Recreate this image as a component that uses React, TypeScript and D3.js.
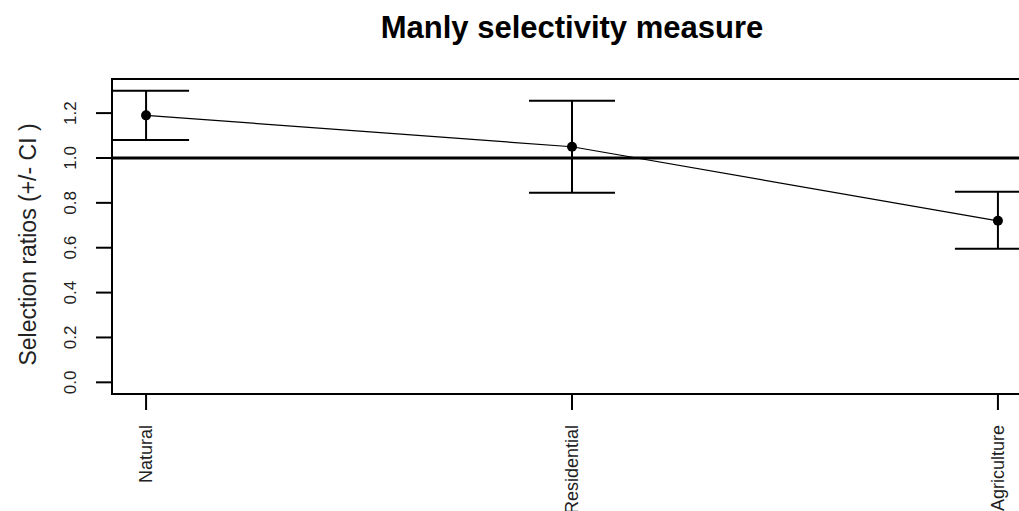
import React, { useEffect, useRef } from 'react';
import * as d3 from 'd3';

const categories = ['Natural', 'Residential', 'Agriculture'];
const ratios = [1.19, 1.05, 0.72];
const lowerCI = [1.08, 0.845, 0.595];
const upperCI = [1.3, 1.255, 0.85];
const yTicks = [0, 0.2, 0.4, 0.6, 0.8, 1.0, 1.2];

const App = () => {
    const svgRef = useRef<SVGSVGElement | null>(null);

    useEffect(() => {
        const svg = d3.select(svgRef.current);
        svg.selectAll('*').remove();

        const left = 112, top = 79, bottom = 394, right = 1032;
        const font = 'Liberation Sans, Arial, sans-serif';

        // R style axes: 4% padding on each side
        const x = d3.scaleLinear().domain([0.92, 3.08]).range([left, right]);
        const y = d3.scaleLinear().domain([-0.052, 1.352]).range([bottom, top]);

        svg.append('text')
            .attr('x', (left + right) / 2).attr('y', 38)
            .attr('text-anchor', 'middle')
            .style('font-family', font).style('font-size', '31px').style('font-weight', 'bold')
            .text('Manly selectivity measure');

        const data = categories.map((c, i) => ({ c, i: i + 1, v: ratios[i], lo: lowerCI[i], hi: upperCI[i] }));

        const plot = svg.append('g');
        plot.append('clipPath').attr('id', 'clip')
            .append('rect').attr('x', left).attr('y', top).attr('width', right - left).attr('height', bottom - top);
        const inner = plot.append('g').attr('clip-path', 'url(#clip)');

        // reference line at 1
        inner.append('line')
            .attr('x1', left).attr('x2', right)
            .attr('y1', y(1)).attr('y2', y(1))
            .attr('stroke', '#000').attr('stroke-width', 3);

        const line = d3.line<any>().x(d => x(d.i)).y(d => y(d.v));
        inner.append('path').datum(data)
            .attr('fill', 'none').attr('stroke', '#000').attr('stroke-width', 1.2)
            .attr('d', line);

        const capW = 43;
        const bars = inner.selectAll('g.err').data(data).join('g').attr('class', 'err');
        bars.append('line')
            .attr('x1', d => x(d.i)).attr('x2', d => x(d.i))
            .attr('y1', d => y(d.lo)).attr('y2', d => y(d.hi))
            .attr('stroke', '#000').attr('stroke-width', 2);
        bars.append('line')
            .attr('x1', d => x(d.i) - capW).attr('x2', d => x(d.i) + capW)
            .attr('y1', d => y(d.hi)).attr('y2', d => y(d.hi))
            .attr('stroke', '#000').attr('stroke-width', 2);
        bars.append('line')
            .attr('x1', d => x(d.i) - capW).attr('x2', d => x(d.i) + capW)
            .attr('y1', d => y(d.lo)).attr('y2', d => y(d.lo))
            .attr('stroke', '#000').attr('stroke-width', 2);
        bars.append('circle')
            .attr('cx', d => x(d.i)).attr('cy', d => y(d.v)).attr('r', 5)
            .attr('fill', '#000');

        // box
        svg.append('rect')
            .attr('x', left).attr('y', top).attr('width', right - left).attr('height', bottom - top)
            .attr('fill', 'none').attr('stroke', '#000').attr('stroke-width', 2);

        // y axis
        const ya = svg.append('g');
        ya.selectAll('line').data(yTicks).join('line')
            .attr('x1', left - 16).attr('x2', left)
            .attr('y1', d => y(d)).attr('y2', d => y(d))
            .attr('stroke', '#000').attr('stroke-width', 2);
        ya.selectAll('text').data(yTicks).join('text')
            .attr('transform', d => `translate(${left - 42},${y(d)}) rotate(-90)`)
            .attr('text-anchor', 'middle').attr('dy', '0.35em')
            .style('font-family', font).style('font-size', '17px').style('fill', '#222')
            .text(d => d.toFixed(1));

        svg.append('text')
            .attr('transform', `translate(28,${(top + bottom) / 2 + 8}) rotate(-90)`)
            .attr('text-anchor', 'middle').attr('dy', '0.35em')
            .style('font-family', font).style('font-size', '23px').style('fill', '#222')
            .text('Selection ratios (+/- CI )');

        // x axis
        const xa = svg.append('g');
        xa.selectAll('line').data(data).join('line')
            .attr('x1', d => x(d.i)).attr('x2', d => x(d.i))
            .attr('y1', bottom).attr('y2', bottom + 16)
            .attr('stroke', '#000').attr('stroke-width', 2);
        xa.selectAll('text').data(data).join('text')
            .attr('transform', d => `translate(${x(d.i)},${bottom + 31}) rotate(-90)`)
            .attr('text-anchor', 'end').attr('dy', '0.35em')
            .style('font-family', font).style('font-size', '18px').style('fill', '#222')
            .text(d => d.c);
    }, []);

    return (
        <svg ref={svgRef} width={1019} height={511}
            style={{ position: 'absolute', left: 0, top: 0, background: '#fff' }} />
    );
};

export default App;
